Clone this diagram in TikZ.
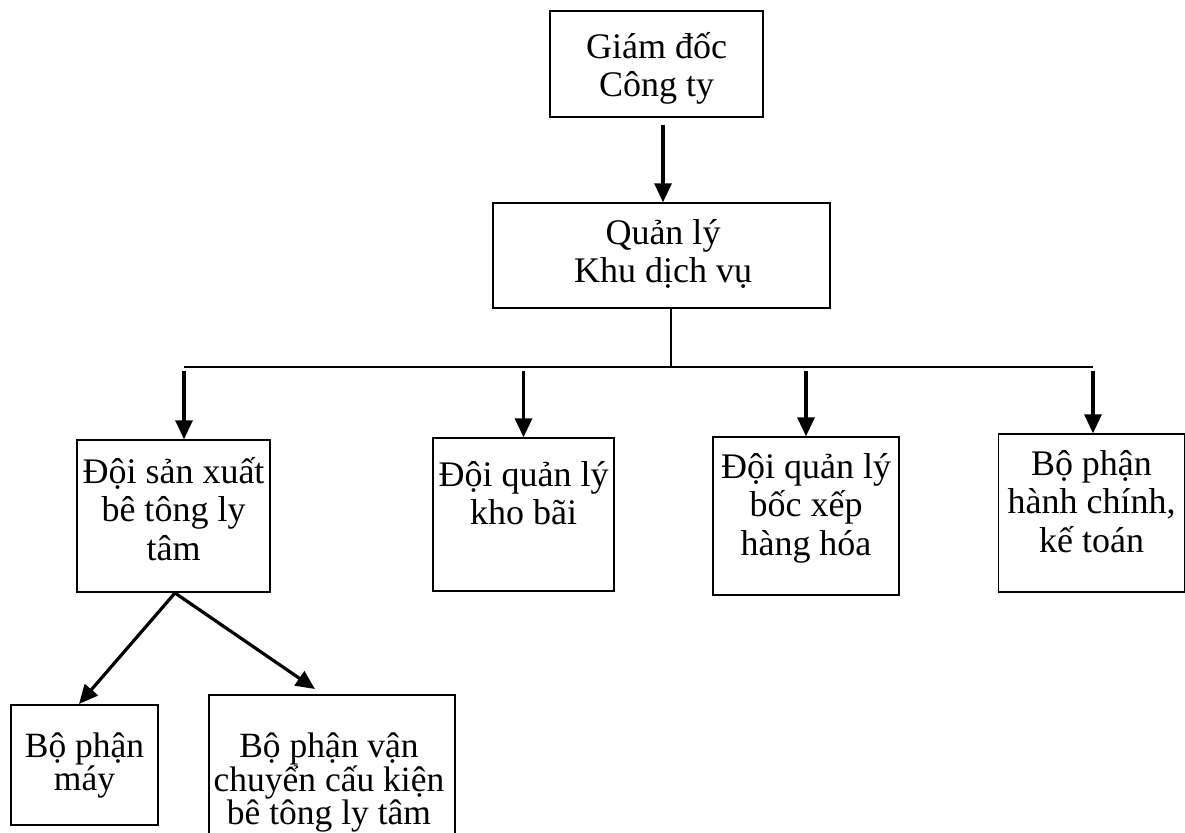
\documentclass[tikz,border=0pt]{standalone}
\usepackage{fontspec}
\setmainfont{Liberation Serif}
\usetikzlibrary{arrows.meta}
\tikzset{
  box/.style={draw, line width=1.4pt, rectangle, inner sep=0pt},
  txt/.style={align=center, inner sep=0pt, anchor=north, font=\fontsize{36pt}{38.5pt}\selectfont},
  txtb/.style={align=center, inner sep=0pt, anchor=north, font=\fontsize{35.5pt}{33pt}\selectfont},
  arr/.style={line width=3.2pt, -{Triangle[length=19pt,width=17pt]}},
  bus/.style={line width=1.4pt}
}
\newcommand{\fs}{\rule{0pt}{34pt}}
\begin{document}
\begin{tikzpicture}[x=1pt,y=-1pt]
\useasboundingbox (0,0) rectangle (1185,832);
% boxes
\node[box, minimum width=213pt, minimum height=106pt] (gd) at (656.5,64) {};
\node[box, minimum width=337pt, minimum height=105pt] (ql) at (661.5,255.5) {};
\node[box, minimum width=193pt, minimum height=152pt] (sx) at (173.5,516) {};
\node[box, minimum width=181pt, minimum height=153pt] (kb) at (523.5,514.5) {};
\node[box, minimum width=186pt, minimum height=158pt] (bx) at (806,516) {};
\node[box, minimum width=186pt, minimum height=158pt] (hc) at (1091.5,513) {};
\node[box, minimum width=147pt, minimum height=120pt] (ma) at (84.5,765) {};
\node[box, minimum width=246pt, minimum height=146pt] (vc) at (332,768) {};
% texts
\node[txt] (gdt) at (656.5,24) {\fs Giám đốc\\Công ty};
\node[txt] (qlt) at (663,210) {\fs Quản lý\\Khu dịch vụ};
\node[txt] (sxt) at (173.5,449) {\fs Đội sản xuất\\bê tông ly\\tâm};
\node[txt] (kbt) at (523.5,452) {\fs Đội quản lý\\kho bãi};
\node[txt] (bxt) at (806,444) {\fs Đội quản lý\\bốc xếp\\hàng hóa};
\node[txt] (hct) at (1091.5,441) {\fs Bộ phận\\hành chính,\\kế toán};
\node[txtb] (mat) at (84.5,723) {\fs Bộ phận\\máy};
\node[txtb] (vct) at (329,723) {\fs Bộ phận vận\\chuyển cấu kiện\\bê tông ly tâm};
% connectors
\draw[arr] ([xshift=6.5pt,yshift=-7pt]gd.south) -- ([xshift=6.5pt]gd.south |- ql.north);
\coordinate (bl) at (184,367);
\coordinate (br) at (1093,367);
\coordinate (bm) at (671,367);
\draw[bus] (ql.south -| bm) -- (bm);
\draw[bus] (bl) -- (br);
\draw[arr] ([yshift=-4pt]bl) -- (bl |- sx.north);
\draw[arr] ([yshift=-4pt]bl -| kb.north) -- (kb.north);
\draw[arr] ([yshift=-4pt]bl -| bx.north) -- (bx.north);
\draw[arr] ([yshift=-4pt]br) -- (br |- hc.north);
\coordinate (ap) at (175,593);
\draw[arr] (ap) -- (79,704);
\draw[arr] (ap) -- (315,689);
\end{tikzpicture}
\end{document}
